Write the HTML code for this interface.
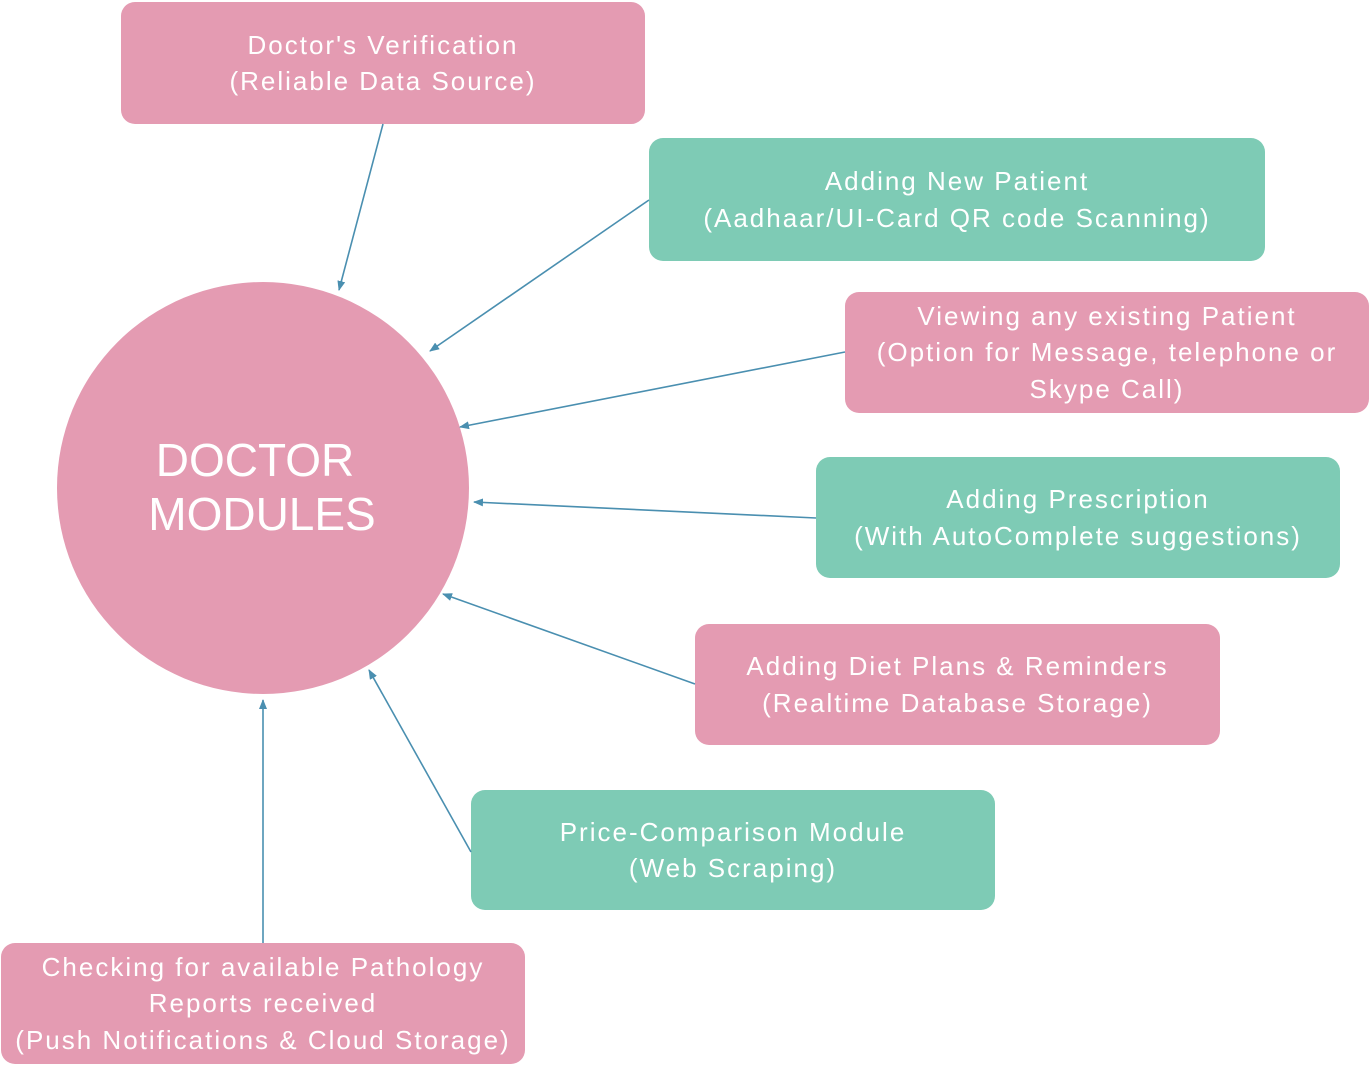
<!DOCTYPE html>
<html><head><meta charset="utf-8"><style>
body{margin:0;width:1370px;height:1067px;background:#fff;position:relative;overflow:hidden;font-family:"Liberation Sans",sans-serif}
.b{position:absolute;border-radius:14px;color:#fff;font-size:26px;line-height:36.5px;text-align:center;display:flex;flex-direction:column;justify-content:center;letter-spacing:2px}
.p{background:#e49bb2}.g{background:#7ecbb5}
svg{position:absolute;left:0;top:0}
</style></head><body>
<div class="b p" style="left:121px;top:2px;width:524px;height:122px">Doctor's Verification<br>(Reliable Data Source)</div>
<div class="b g" style="left:649px;top:138px;width:616px;height:123px">Adding New Patient<br>(Aadhaar/UI-Card QR code Scanning)</div>
<div class="b p" style="left:845px;top:292px;width:524px;height:121px">Viewing any existing Patient<br>(Option for Message, telephone or<br>Skype Call)</div>
<div class="b g" style="left:816px;top:457px;width:524px;height:121px">Adding Prescription<br>(With AutoComplete suggestions)</div>
<div class="b p" style="left:695px;top:624px;width:525px;height:121px">Adding Diet Plans &amp; Reminders<br>(Realtime Database Storage)</div>
<div class="b g" style="left:471px;top:790px;width:524px;height:120px">Price-Comparison Module<br>(Web Scraping)</div>
<div class="b p" style="left:1px;top:943px;width:524px;height:121px">Checking for available Pathology<br>Reports received<br>(Push Notifications &amp; Cloud Storage)</div>
<svg width="1370" height="1067">
<defs><marker id="a" markerWidth="10" markerHeight="8" refX="9" refY="4" orient="auto" markerUnits="userSpaceOnUse"><path d="M0,0 L10,4 L0,8 Z" fill="#4a8fb0"/></marker></defs>
<circle cx="263" cy="488" r="206" fill="#e49bb2"/>
<text x="255" y="476" font-size="46" fill="#fff" text-anchor="middle" font-family="Liberation Sans">DOCTOR</text>
<text x="262" y="530" font-size="46" fill="#fff" text-anchor="middle" font-family="Liberation Sans">MODULES</text>
<g stroke="#4a8fb0" stroke-width="1.6" marker-end="url(#a)">
<line x1="383" y1="124" x2="339" y2="290"/>
<line x1="649" y1="200" x2="430" y2="351"/>
<line x1="845" y1="352" x2="460" y2="427"/>
<line x1="816" y1="518" x2="474" y2="502"/>
<line x1="695" y1="684" x2="443" y2="594"/>
<line x1="471" y1="852" x2="369" y2="670"/>
<line x1="263" y1="943" x2="263" y2="700"/>
</g>
</svg>
</body></html>
